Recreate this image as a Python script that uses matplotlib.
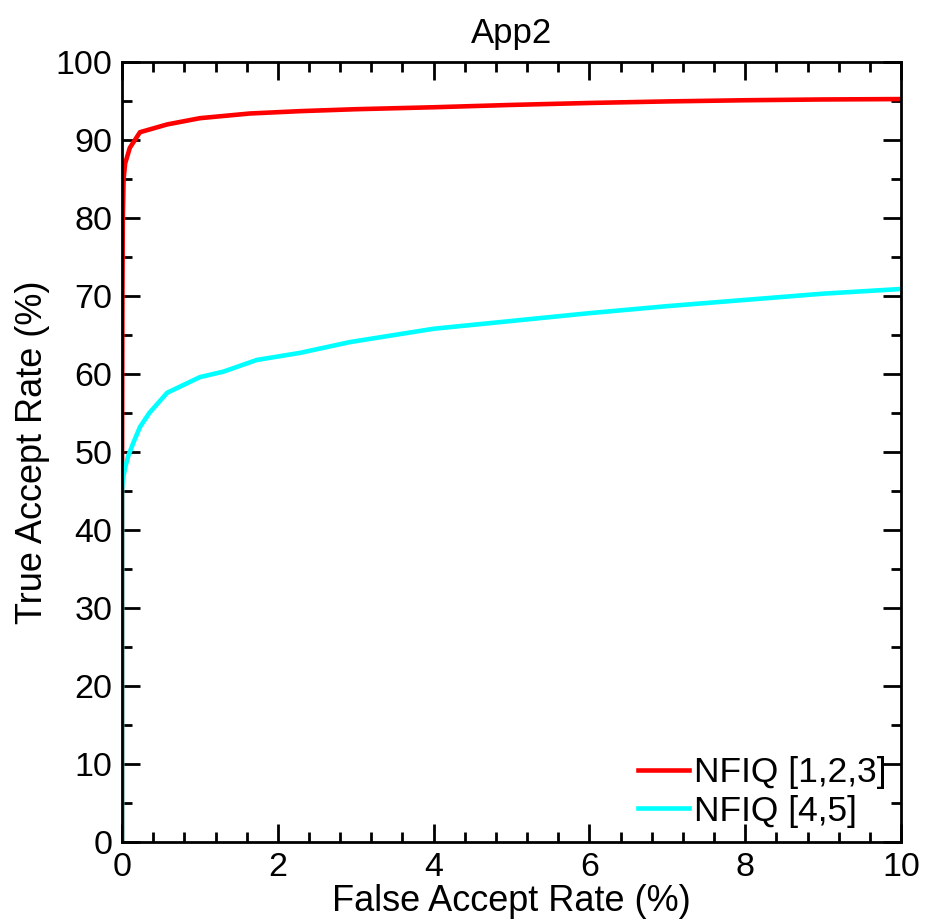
import matplotlib
matplotlib.use("Agg")
import matplotlib.pyplot as plt
from matplotlib.ticker import MultipleLocator

plt.rcParams['font.family'] = ['Liberation Sans', 'DejaVu Sans']

far_red = [0.0, 0.0, 0.005, 0.01, 0.02, 0.04, 0.1, 0.23, 0.58, 1.0, 1.64, 2.28, 3.0, 4.0, 5.0, 6.0, 7.0, 8.0, 9.0, 10.0]
tar_red = [0.0, 46.0, 70.0, 80.0, 85.0, 87.0, 89.0, 91.0, 92.0, 92.8, 93.4, 93.7, 93.95, 94.2, 94.5, 94.75, 94.95, 95.1, 95.2, 95.25]

far_cyan = [0.0, 0.0, 0.01, 0.04, 0.08, 0.15, 0.23, 0.35, 0.58, 1.0, 1.3, 1.73, 2.28, 2.93, 4.0, 5.0, 6.0, 7.0, 8.0, 9.0, 10.0]
tar_cyan = [0.0, 45.0, 46.5, 48.0, 49.5, 51.3, 53.2, 55.0, 57.6, 59.6, 60.3, 61.8, 62.7, 64.1, 65.8, 66.8, 67.8, 68.7, 69.5, 70.3, 70.9]

labels = ["NFIQ [1,2,3]", "NFIQ [4,5]"]
colors = ["#ff0000", "#00ffff"]

fig = plt.figure(figsize=(9.33, 9.23), dpi=100)
ax = fig.add_axes([0.1308, 0.0878, 0.8349, 0.845])
ax.plot(far_red, tar_red, color=colors[0], lw=3.3, label=labels[0])
ax.plot(far_cyan, tar_cyan, color=colors[1], lw=3.3, label=labels[1])
ax.set_xlim(0, 10)
ax.set_ylim(0, 100)
ax.xaxis.set_major_locator(MultipleLocator(2))
ax.xaxis.set_minor_locator(MultipleLocator(0.4))
ax.yaxis.set_major_locator(MultipleLocator(10))
ax.yaxis.set_minor_locator(MultipleLocator(5))
ax.tick_params(which='both', direction='in', top=True, right=True, width=2, labelsize=24.5, pad=7)
ax.tick_params(which='major', length=13)
ax.tick_params(which='minor', length=7)
for s in ax.spines.values():
    s.set_linewidth(2)
ax.set_xlabel("False Accept Rate (%)", fontsize=26, labelpad=1)
ax.set_ylabel("True Accept Rate (%)", fontsize=26, labelpad=4)
ax.set_title("App2", fontsize=25, pad=14)
leg = ax.legend(loc='lower right', frameon=False, fontsize=25.5, handlelength=1.45,
                handletextpad=0.15, borderaxespad=0.2, borderpad=0.2, labelspacing=0.15)
fig.savefig("out.png", dpi=100)
